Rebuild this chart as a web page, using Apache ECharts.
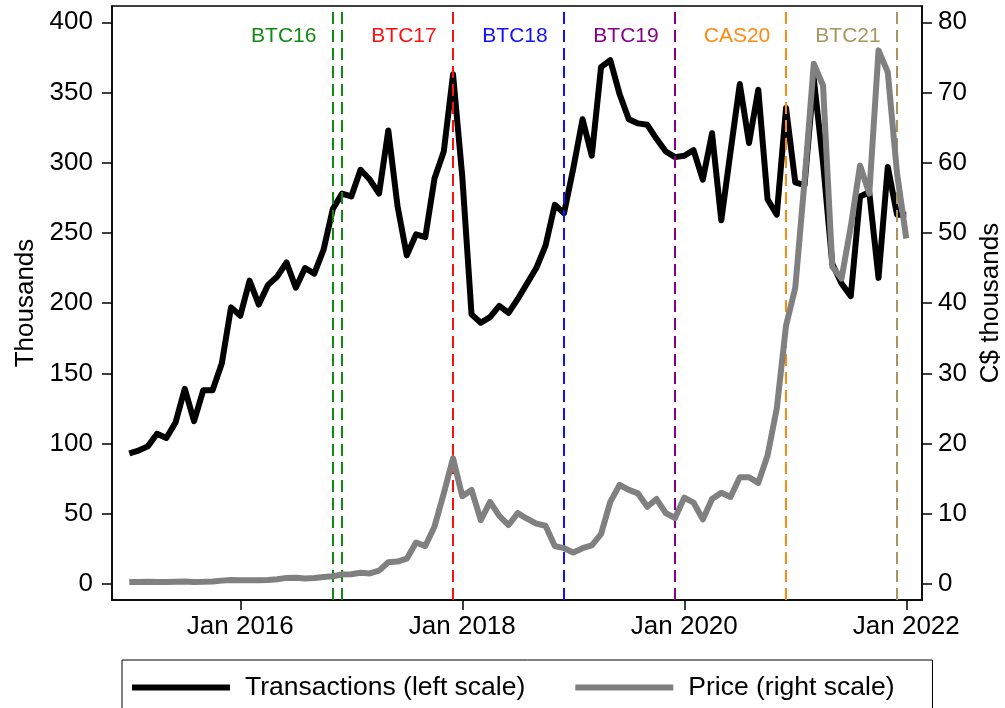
<!DOCTYPE html>
<html>
<head>
<meta charset="utf-8">
<script src="https://cdn.jsdelivr.net/npm/echarts@6/dist/echarts.min.js"></script>
<style>
  html, body { margin: 0; padding: 0; background: #fff; }
  #chart { width: 1005px; height: 708px; }
</style>
</head>
<body>
<div id="chart"></div>
<script>
// Monthly observations, Jan 2015 (index 0) to Jan 2022 (index 84)
const startYear = 2015;
const transactions = [
  93, 95, 98, 107, 104, 115, 139, 116, 138, 138, 157, 197,
  191, 216, 199, 213, 219, 229, 211, 225, 221, 238, 267, 278,
  276, 295, 288, 278, 323, 269, 234, 249, 247, 289, 308, 363,
  290, 192, 186, 190, 198, 193, 203, 214, 225, 241, 270, 264,
  296, 331, 305, 368, 373, 349, 331, 328, 327, 317, 308, 304,
  305, 309, 288, 321, 259, 308, 356, 314, 352, 274, 263, 339,
  286, 284, 360, 300, 228, 214, 205, 276, 279, 218, 297, 263,
  263
];
const price = [
  0.27, 0.29, 0.32, 0.29, 0.29, 0.31, 0.35, 0.30, 0.31, 0.36, 0.48, 0.58,
  0.55, 0.55, 0.54, 0.58, 0.68, 0.87, 0.88, 0.77, 0.85, 1.0, 1.1, 1.35,
  1.4, 1.6, 1.5, 1.9, 3.1, 3.2, 3.6, 5.9, 5.4, 8.2, 12.9, 17.9,
  12.5, 13.4, 9.1, 11.7, 9.7, 8.4, 10.1, 9.3, 8.6, 8.3, 5.4, 5.1,
  4.5, 5.1, 5.5, 7.1, 11.7, 14.1, 13.4, 12.9, 11.0, 12.1, 10.1, 9.4,
  12.3, 11.6, 9.2, 12.1, 13.0, 12.4, 15.2, 15.2, 14.4, 18.3, 25.0, 36.8,
  42.2, 57.4, 74.1, 71.0, 45.2, 43.5, 50.9, 59.6, 55.6, 76.0, 72.9, 58.5,
  49.2
];
const xTickYears = [2016, 2018, 2020, 2022];
const leftTicks = [0, 50, 100, 150, 200, 250, 300, 350, 400];
const rightTicks = [0, 10, 20, 30, 40, 50, 60, 70, 80];
const eventNames = ['BTC16', 'BTC17', 'BTC18', 'BTC19', 'CAS20', 'BTC21'];
const eventMonths = [[22, 23], [35], [47], [59], [71], [83]]; // month index from Jan 2015
const eventColors = ['#118a11', '#ff1010', '#1010ff', '#880088', '#ff8a10', '#a8955f'];

// style / layout constants
const FONT = '"Liberation Sans", Arial, Helvetica, sans-serif';
const labelShiftMonths = 5.3;
const labelLevel = 390;

const monthIdx = transactions.map((_, i) => i);
const txData = monthIdx.map(i => [i, transactions[i]]);
const prData = monthIdx.map(i => [i, price[i]]);
const xTickVals = xTickYears.map(y => (y - startYear) * 12);

const markLineData = [];
eventMonths.forEach((ms, k) => {
  ms.forEach(m => markLineData.push({
    xAxis: m,
    lineStyle: { color: eventColors[k], type: [12, 6], width: 2, opacity: 1 }
  }));
});
const eventLabelData = eventNames.map((n, k) => ({
  value: [eventMonths[k][0] - labelShiftMonths, labelLevel],
  name: n,
  label: { color: eventColors[k] }
}));

const axisLineStyle = { color: '#000', width: 1.5 };

const chart = echarts.init(document.getElementById('chart'), null, { renderer: 'canvas' });
chart.setOption({
  animation: false,
  backgroundColor: '#fff',
  textStyle: { fontFamily: FONT },
  grid: {
    left: 112, right: 83, top: 6, bottom: 108,
    outerBoundsMode: 'none', containLabel: false,
    show: true, borderColor: '#000', borderWidth: 1.5, backgroundColor: '#fff'
  },
  legend: {
    left: 122, top: 660,
    data: ['Transactions (left scale)', 'Price (right scale)'],
    icon: 'rect', itemWidth: 98, itemHeight: 6, itemGap: 50,
    borderColor: '#000', borderWidth: 1,
    padding: [14, 38, 30, 10],
    textStyle: { fontSize: 26.5, color: '#000', fontFamily: FONT, padding: [0, 0, 0, 10] }
  },
  xAxis: {
    type: 'value', min: -1.87, max: 85.7,
    axisLine: { show: true, onZero: false, lineStyle: axisLineStyle },
    axisTick: { show: true, length: 10, customValues: xTickVals, lineStyle: axisLineStyle },
    axisLabel: {
      customValues: xTickVals, margin: 14, fontSize: 26, color: '#000', fontFamily: FONT,
      formatter: v => 'Jan ' + (startYear + Math.round(v / 12))
    },
    splitLine: { show: false }
  },
  yAxis: [
    {
      type: 'value', min: -11.4, max: 411.6, position: 'left',
      name: 'Thousands', nameLocation: 'middle', nameGap: 70, nameRotate: 90,
      nameTextStyle: { fontSize: 26, color: '#000', fontFamily: FONT },
      axisLine: { show: true, onZero: false, lineStyle: axisLineStyle },
      axisTick: { show: true, length: 10, customValues: leftTicks, lineStyle: axisLineStyle },
      axisLabel: { customValues: leftTicks, margin: 19, fontSize: 26, color: '#000', fontFamily: FONT },
      splitLine: { show: false }
    },
    {
      type: 'value', min: -2.28, max: 82.32, position: 'right',
      name: 'C$ thousands', nameLocation: 'middle', nameGap: 52, nameRotate: 90,
      nameTextStyle: { fontSize: 26, color: '#000', fontFamily: FONT },
      axisLine: { show: true, onZero: false, lineStyle: axisLineStyle },
      axisTick: { show: true, length: 10, customValues: rightTicks, lineStyle: axisLineStyle },
      axisLabel: { customValues: rightTicks, margin: 16, fontSize: 26, color: '#000', fontFamily: FONT },
      splitLine: { show: false }
    }
  ],
  series: [
    {
      name: 'Transactions (left scale)', type: 'line', yAxisIndex: 0,
      data: txData, showSymbol: false, color: '#000',
      lineStyle: { color: '#000', width: 6, join: 'round' },
      z: 2,
      markLine: {
        silent: true, symbol: ['none', 'none'], label: { show: false },
        data: markLineData, z: 3
      }
    },
    {
      name: 'Price (right scale)', type: 'line', yAxisIndex: 1,
      data: prData, showSymbol: false, color: '#808080',
      lineStyle: { color: '#808080', width: 6, join: 'round' },
      z: 4
    },
    {
      name: 'events', type: 'scatter', yAxisIndex: 0,
      data: eventLabelData, symbolSize: 0, silent: true,
      itemStyle: { opacity: 1 },
      label: {
        show: true, position: 'inside', fontSize: 21, fontFamily: FONT, opacity: 1,
        formatter: p => p.name
      },
      z: 5
    }
  ]
});
</script>
</body>
</html>
